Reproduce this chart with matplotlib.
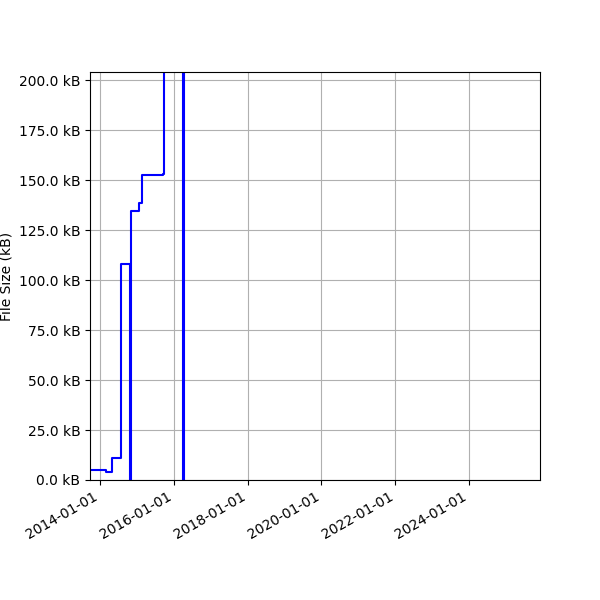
import matplotlib
matplotlib.use("Agg")
import matplotlib.pyplot as plt
import matplotlib.dates as mdates
import matplotlib.ticker as mticker
import pandas as pd

# commit dates and file sizes (kB)
dates = [
    "2013-09-24", "2014-02-26", "2014-04-25", "2014-07-24", "2014-07-26",
    "2014-07-27", "2014-10-21", "2014-10-30", "2014-11-03", "2015-01-21",
    "2015-02-17", "2015-09-20", "2015-09-25", "2016-03-30", "2016-04-09",
    "2016-04-12",
]
sizes_kb = [
    5.0, 4.2, 10.8, 21.7, 81.7,
    107.8, 0.0, 116.3, 134.5, 138.7,
    152.5, 153.2, 380.0, 0.0, 420.0,
    420.0,
]

x_start = "2013-09-24"
x_end = "2025-12-02"
y_max = 204.0

dates = pd.to_datetime(dates)

fig, ax = plt.subplots(figsize=(6, 6), dpi=100)
fig.subplots_adjust(left=0.15, right=0.9, top=0.88)

ax.step(dates, sizes_kb, where="post", color="blue", linewidth=1.5)

ax.set_xlim(pd.Timestamp(x_start), pd.Timestamp(x_end))
ax.set_ylim(0, y_max)
ax.set_ylabel("File Size (kB)")
ax.yaxis.set_major_formatter(mticker.FuncFormatter(lambda v, p: f"{v:.1f} kB"))
ax.xaxis.set_major_locator(mdates.YearLocator(2))
ax.xaxis.set_major_formatter(mdates.DateFormatter("%Y-%m-%d"))
ax.grid(True)
fig.autofmt_xdate()

fig.savefig("out.png")
